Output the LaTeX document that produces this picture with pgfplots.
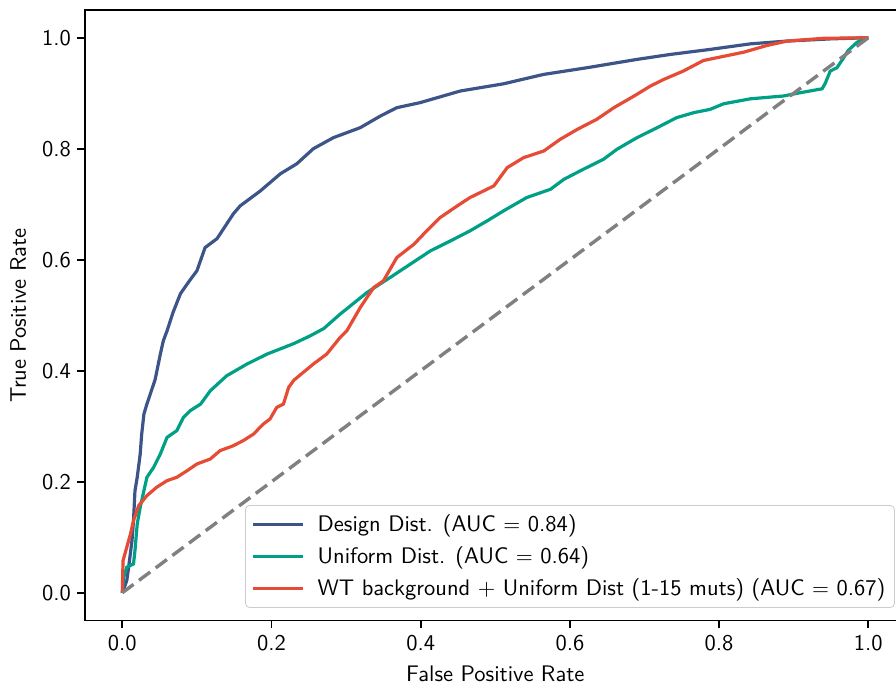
\documentclass[border=0pt]{standalone}
\usepackage{fontspec}
\setsansfont{lmsans10-regular.otf}
\usepackage{pgfplots}
\pgfplotsset{compat=1.18}
\definecolor{cblue}{HTML}{3C5488}
\definecolor{cgreen}{HTML}{00A087}
\definecolor{cred}{HTML}{E64B35}
\definecolor{cgray}{HTML}{808080}
\newcommand{\ff}{\fontsize{11.25bp}{13.5bp}\selectfont\sffamily}
\begin{document}
\begin{tikzpicture}
\begin{axis}[
  scale only axis, width=410.3bp, height=305.25bp,
  xmin=-0.05, xmax=1.05, ymin=-0.05, ymax=1.05,
  xtick={0,0.2,0.4,0.6,0.8,1.0}, ytick={0,0.2,0.4,0.6,0.8,1.0},
  xticklabels={0.0,0.2,0.4,0.6,0.8,1.0},
  yticklabels={0.0,0.2,0.4,0.6,0.8,1.0},
  tick align=outside, xtick pos=left, ytick pos=left,
  major tick length=3.8bp,
  every tick/.style={black, line width=0.87bp},
  axis line style={line width=0.87bp},
  tick label style={font=\ff},
  yticklabel style={xshift=0.3bp},
  label style={font=\ff},
  xlabel={False Positive Rate}, ylabel={True Positive Rate},
  xlabel style={at={([yshift=-30.5bp]rel axis cs:0.5,0)}, anchor=base},
  ylabel style={at={([xshift=-29.5bp]rel axis cs:0,0.5)}, anchor=base},
  legend style={at={(1,0)}, anchor=south east, xshift=-5.4bp, yshift=6.3bp,
    draw=black!20, rounded corners=2bp, fill=white, fill opacity=0.8, text opacity=1,
    font=\ff, row sep=3.1bp, column sep=5bp, inner sep=3bp,
    nodes={inner sep=1.5bp}},
  legend cell align=left,
  legend image code/.code={\draw[#1] (0bp,0bp) -- (25bp,0bp);},
]
\addplot[cblue, line width=1.6bp] coordinates {
(0,0) (0.006,0.022) (0.0085,0.046) (0.013,0.094) (0.015,0.13) (0.017,0.184)
(0.020,0.208) (0.024,0.250) (0.026,0.286) (0.029,0.322) (0.033,0.340)
(0.0375,0.358) (0.044,0.384) (0.051,0.43) (0.055,0.454) (0.060,0.472)
(0.068,0.505) (0.078,0.539) (0.090,0.562) (0.100,0.580) (0.111,0.622) (0.127,0.638) (0.149,0.683)
(0.158,0.697) (0.185,0.724) (0.212,0.755) (0.234,0.773) (0.256,0.800)
(0.283,0.820) (0.319,0.838) (0.346,0.859) (0.368,0.874) (0.399,0.883)
(0.453,0.904) (0.511,0.917) (0.565,0.934) (0.623,0.946) (0.690,0.961)
(0.735,0.970) (0.788,0.979) (0.842,0.989) (0.891,0.994) (0.95,0.998) (1,1)
};
\addlegendentry{Design Dist. (AUC $=$ 0.84)}
\addplot[cgreen, line width=1.6bp] coordinates {
(0,0) (0.002,0.028) (0.006,0.046) (0.015,0.052) (0.017,0.076) (0.020,0.124)
(0.024,0.154) (0.029,0.184) (0.033,0.208) (0.042,0.226) (0.051,0.250)
(0.060,0.280) (0.073,0.292) (0.082,0.316) (0.091,0.328) (0.105,0.340)
(0.118,0.364) (0.140,0.391) (0.167,0.412) (0.194,0.430) (0.230,0.449)
(0.252,0.463) (0.270,0.476) (0.292,0.502) (0.328,0.541) (0.359,0.568)
(0.386,0.592) (0.413,0.616) (0.440,0.634) (0.466,0.652) (0.489,0.670)
(0.511,0.688) (0.542,0.712) (0.574,0.727) (0.592,0.745) (0.618,0.763)
(0.645,0.781) (0.663,0.799) (0.690,0.820) (0.717,0.838) (0.743,0.856)
(0.766,0.865) (0.788,0.871) (0.806,0.881) (0.842,0.890) (0.886,0.895)
(0.909,0.901) (0.938,0.908) (0.942,0.917) (0.949,0.940) (0.958,0.946)
(0.966,0.962) (0.973,0.977) (0.985,0.992) (1,1)
};
\addlegendentry{Uniform Dist. (AUC $=$ 0.64)}
\addplot[cred, line width=1.6bp] coordinates {
(0,0) (0.001,0.058) (0.006,0.082) (0.011,0.106) (0.015,0.130) (0.022,0.157)
(0.033,0.175) (0.046,0.190) (0.060,0.202) (0.073,0.208) (0.087,0.220)
(0.100,0.232) (0.118,0.241) (0.131,0.256) (0.149,0.265) (0.162,0.274)
(0.176,0.286) (0.189,0.304) (0.198,0.313) (0.207,0.334) (0.216,0.340)
(0.223,0.370) (0.230,0.383) (0.256,0.412) (0.274,0.430) (0.292,0.460)
(0.301,0.472) (0.319,0.514) (0.337,0.550) (0.350,0.562) (0.368,0.604)
(0.391,0.628) (0.408,0.652) (0.426,0.676) (0.449,0.697) (0.466,0.712)
(0.498,0.733) (0.516,0.766) (0.538,0.784) (0.565,0.796) (0.587,0.817)
(0.610,0.835) (0.636,0.853) (0.659,0.874) (0.686,0.895) (0.708,0.913)
(0.726,0.925) (0.752,0.940) (0.779,0.959) (0.833,0.974) (0.864,0.986)
(0.891,0.994) (0.940,0.999) (1,1)
};
\addlegendentry{WT background + Uniform Dist (1-15 muts) (AUC $=$ 0.67)}
\addplot[cgray, line width=1.7bp, dash pattern=on 7bp off 3.4bp, forget plot] coordinates {(0,0) (1,1)};
\coordinate (SW) at (rel axis cs:0,0);
\coordinate (NE) at (rel axis cs:1,1);
\end{axis}
\pgfresetboundingbox
\useasboundingbox ([shift={(-42.5bp,-31.2bp)}]SW) rectangle ([shift={(-4.8bp,5bp)}]NE);
\end{tikzpicture}
\end{document}
